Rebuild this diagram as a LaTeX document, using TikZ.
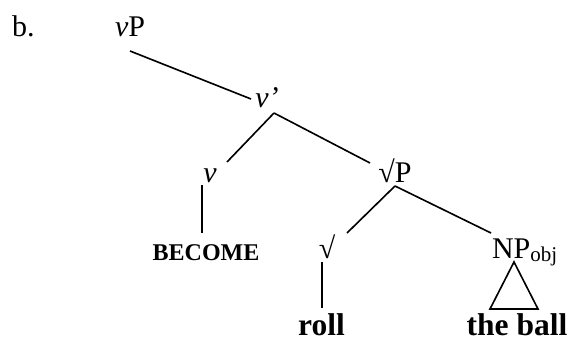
\documentclass[tikz,border=0pt]{standalone}
\usepackage{fontspec}
\setmainfont{Liberation Serif}
\begin{document}
\begin{tikzpicture}[x=0.4pt,y=-0.4pt,
  lbl/.style={inner sep=0pt,outer sep=0pt,font=\fontsize{12}{14}\selectfont},
  leaf/.style={inner sep=0pt,outer sep=0pt,font=\fontsize{12.6}{15}\selectfont\bfseries},
  small/.style={inner sep=0pt,outer sep=0pt,font=\fontsize{9.6}{11}\selectfont\bfseries},
  branch/.style={line width=0.65pt}]
\useasboundingbox (0,0) rectangle (573,339);
\node[lbl,anchor=base west] (b) at (12,37) {b.};
\node[lbl,anchor=base] (vP) at (130,37) {\textit{v}P};
\node[lbl,anchor=base] (v1) at (267,108) {\textit{v’}};
\node[lbl,anchor=base] (v) at (210,183) {\textit{v}};
\node[lbl,anchor=base] (rP) at (395,183) {√P};
\node[small,anchor=base] (become) at (206,260) {BECOME};
\node[lbl,anchor=base] (root) at (327,258) {√};
\node[lbl,anchor=base west] (np) at (492,258) {NP\raisebox{-1.2pt}{\fontsize{8.4}{10}\selectfont obj}};
\node[leaf,anchor=base] (roll) at (321.5,335) {roll};
\node[leaf,anchor=base] (ball) at (517,335) {the ball};
\draw[branch] ([shift={(0,14)}]vP.base) -- ([shift={(-16,-9)}]v1.base);
\draw[branch] ([shift={(7,5)}]v1.base) -- ([shift={(17,-21)}]v.base);
\draw[branch] ([shift={(7,5)}]v1.base) -- ([shift={(-25,-20)}]rP.base);
\draw[branch] ([shift={(-8,2)}]v.base) -- ([shift={(-4,-27)}]become.base);
\draw[branch] ([shift={(0,3)}]rP.base) -- ([shift={(20,-25)}]root.base);
\draw[branch] ([shift={(0,3)}]rP.base) -- ([shift={(-1,-25)}]np.base west);
\draw[branch] ([shift={(-5,4)}]root.base) -- ([shift={(0.5,-27)}]roll.base);
\draw[branch,line join=miter] ([shift={(22,4)}]np.base west) -- ([shift={(-27,-26)}]ball.base) -- ([shift={(21,-26)}]ball.base) -- cycle;
\end{tikzpicture}
\end{document}
